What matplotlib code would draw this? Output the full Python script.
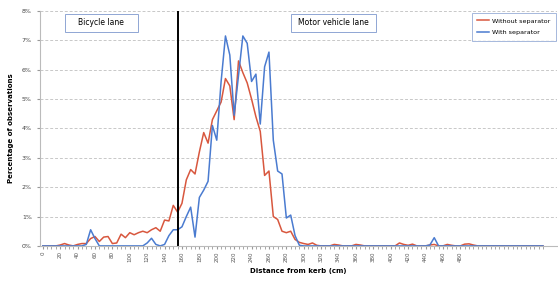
import numpy as np
import matplotlib.pyplot as plt
from matplotlib.patches import Rectangle

# distance from kerb (cm), one category every 5 cm
distance = np.arange(0, 580, 5)

# percentage of observations
without_separator = [
    0, 0, 0, 0, 0.03, 0.08, 0.03, 0, 0.05, 0.08,
    0.08, 0.25, 0.32, 0.15, 0.3, 0.32, 0.08, 0.1, 0.4, 0.28,
    0.45, 0.38, 0.45, 0.5, 0.45, 0.55, 0.62, 0.5, 0.88, 0.85,
    1.38, 1.15, 1.45, 2.25, 2.6, 2.45, 3.2, 3.86, 3.5, 4.3,
    4.6, 4.9, 5.7, 5.45, 4.3, 6.3, 5.9, 5.55, 5.0, 4.4,
    3.9, 2.4, 2.55, 1.0, 0.9, 0.5, 0.45, 0.5, 0.22, 0.12,
    0.08, 0.05, 0.1, 0.02, 0, 0, 0, 0.05, 0.03, 0,
    0, 0, 0.05, 0.03, 0, 0, 0, 0, 0, 0,
    0, 0, 0.1, 0.05, 0.02, 0.06, 0, 0, 0, 0.03,
    0.05, 0, 0, 0.05, 0.02, 0, 0, 0.06, 0.07, 0.03,
    0, 0, 0, 0, 0, 0, 0, 0, 0, 0,
    0, 0, 0, 0, 0, 0,
]
with_separator = [
    0, 0, 0, 0, 0, 0, 0, 0, 0, 0,
    0.05, 0.55, 0.25, 0, 0, 0, 0, 0, 0, 0,
    0, 0, 0, 0, 0.1, 0.26, 0.05, 0, 0.05, 0.35,
    0.55, 0.55, 0.65, 1.0, 1.32, 0.3, 1.65, 1.9, 2.2, 4.1,
    3.6, 5.6, 7.15, 6.5, 4.45, 5.8, 7.15, 6.9, 5.6, 5.85,
    4.15, 6.1, 6.6, 3.6, 2.55, 2.45, 0.95, 1.05, 0.35, 0.02,
    0, 0, 0, 0, 0, 0, 0, 0, 0, 0,
    0, 0, 0, 0, 0, 0, 0, 0, 0, 0,
    0, 0, 0, 0, 0, 0, 0, 0, 0, 0.03,
    0.28, 0, 0, 0, 0, 0, 0, 0, 0, 0,
    0, 0, 0, 0, 0, 0, 0, 0, 0, 0,
    0, 0, 0, 0, 0, 0,
]
tick_labels = list(range(0, 500, 20))
lane_border = 156

fig = plt.figure(figsize=(5.58, 2.82), dpi=100)
ax = fig.add_axes([0.072, 0.128, 0.926, 0.833])

ax.plot(distance, without_separator, color='#d8573e', lw=1.1, label='Without separator')
ax.plot(distance, with_separator, color='#4a7bd0', lw=1.1, label='With separator')
ax.axvline(lane_border, color='black', lw=1.4)

# Decoration
ax.set_xlim(-3, 591)
ax.set_ylim(0, 8)
ax.set_yticks(range(0, 9))
ax.set_yticklabels(['%d%%' % v for v in range(0, 9)], fontsize=4.5, color='#444444')
ax.set_xticks(tick_labels)
ax.set_xticklabels(tick_labels, rotation=90, fontsize=4, color='#555555')
ax.set_xticks(distance, minor=True)
ax.tick_params(axis='x', which='both', length=2, color='#999999', pad=2)
ax.tick_params(axis='y', length=2, color='#999999', pad=4)
ax.grid(axis='y', color='#c8c8c8', lw=0.7, ls=(0, (3, 2)))
ax.set_axisbelow(True)
for side in ['top', 'right']:
    ax.spines[side].set_visible(False)
ax.spines['left'].set_color('#bbbbbb')
ax.spines['bottom'].set_color('#bbbbbb')

ax.set_xlabel('Distance from kerb (cm)', fontsize=5, fontweight='bold', labelpad=4)
ax.set_ylabel('Percentage of observations', fontsize=5, fontweight='bold', labelpad=6)

# lane label boxes (axes fractions)
for x0, w, label in [(0.048, 0.141, 'Bicycle lane'), (0.485, 0.165, 'Motor vehicle lane')]:
    ax.add_patch(Rectangle((x0, 0.911), w, 0.076, transform=ax.transAxes, fc='white',
                           ec='#8fa6d4', lw=0.7, zorder=5, clip_on=False))
    ax.text(x0 + w / 2, 0.949, label, transform=ax.transAxes, fontsize=5.5,
            ha='center', va='center', zorder=6)

leg = ax.legend(loc='upper left', fontsize=4.6, frameon=True, fancybox=False,
                handlelength=1.8, handletextpad=0.6, borderpad=0.8, labelspacing=1.0,
                borderaxespad=0)
leg.get_frame().set_edgecolor('#8fa6d4')
leg.get_frame().set_linewidth(0.7)
leg.set_bbox_to_anchor((472 / 558, 1 - 13 / 282), transform=fig.transFigure)

fig.savefig('out.png', dpi=100)
